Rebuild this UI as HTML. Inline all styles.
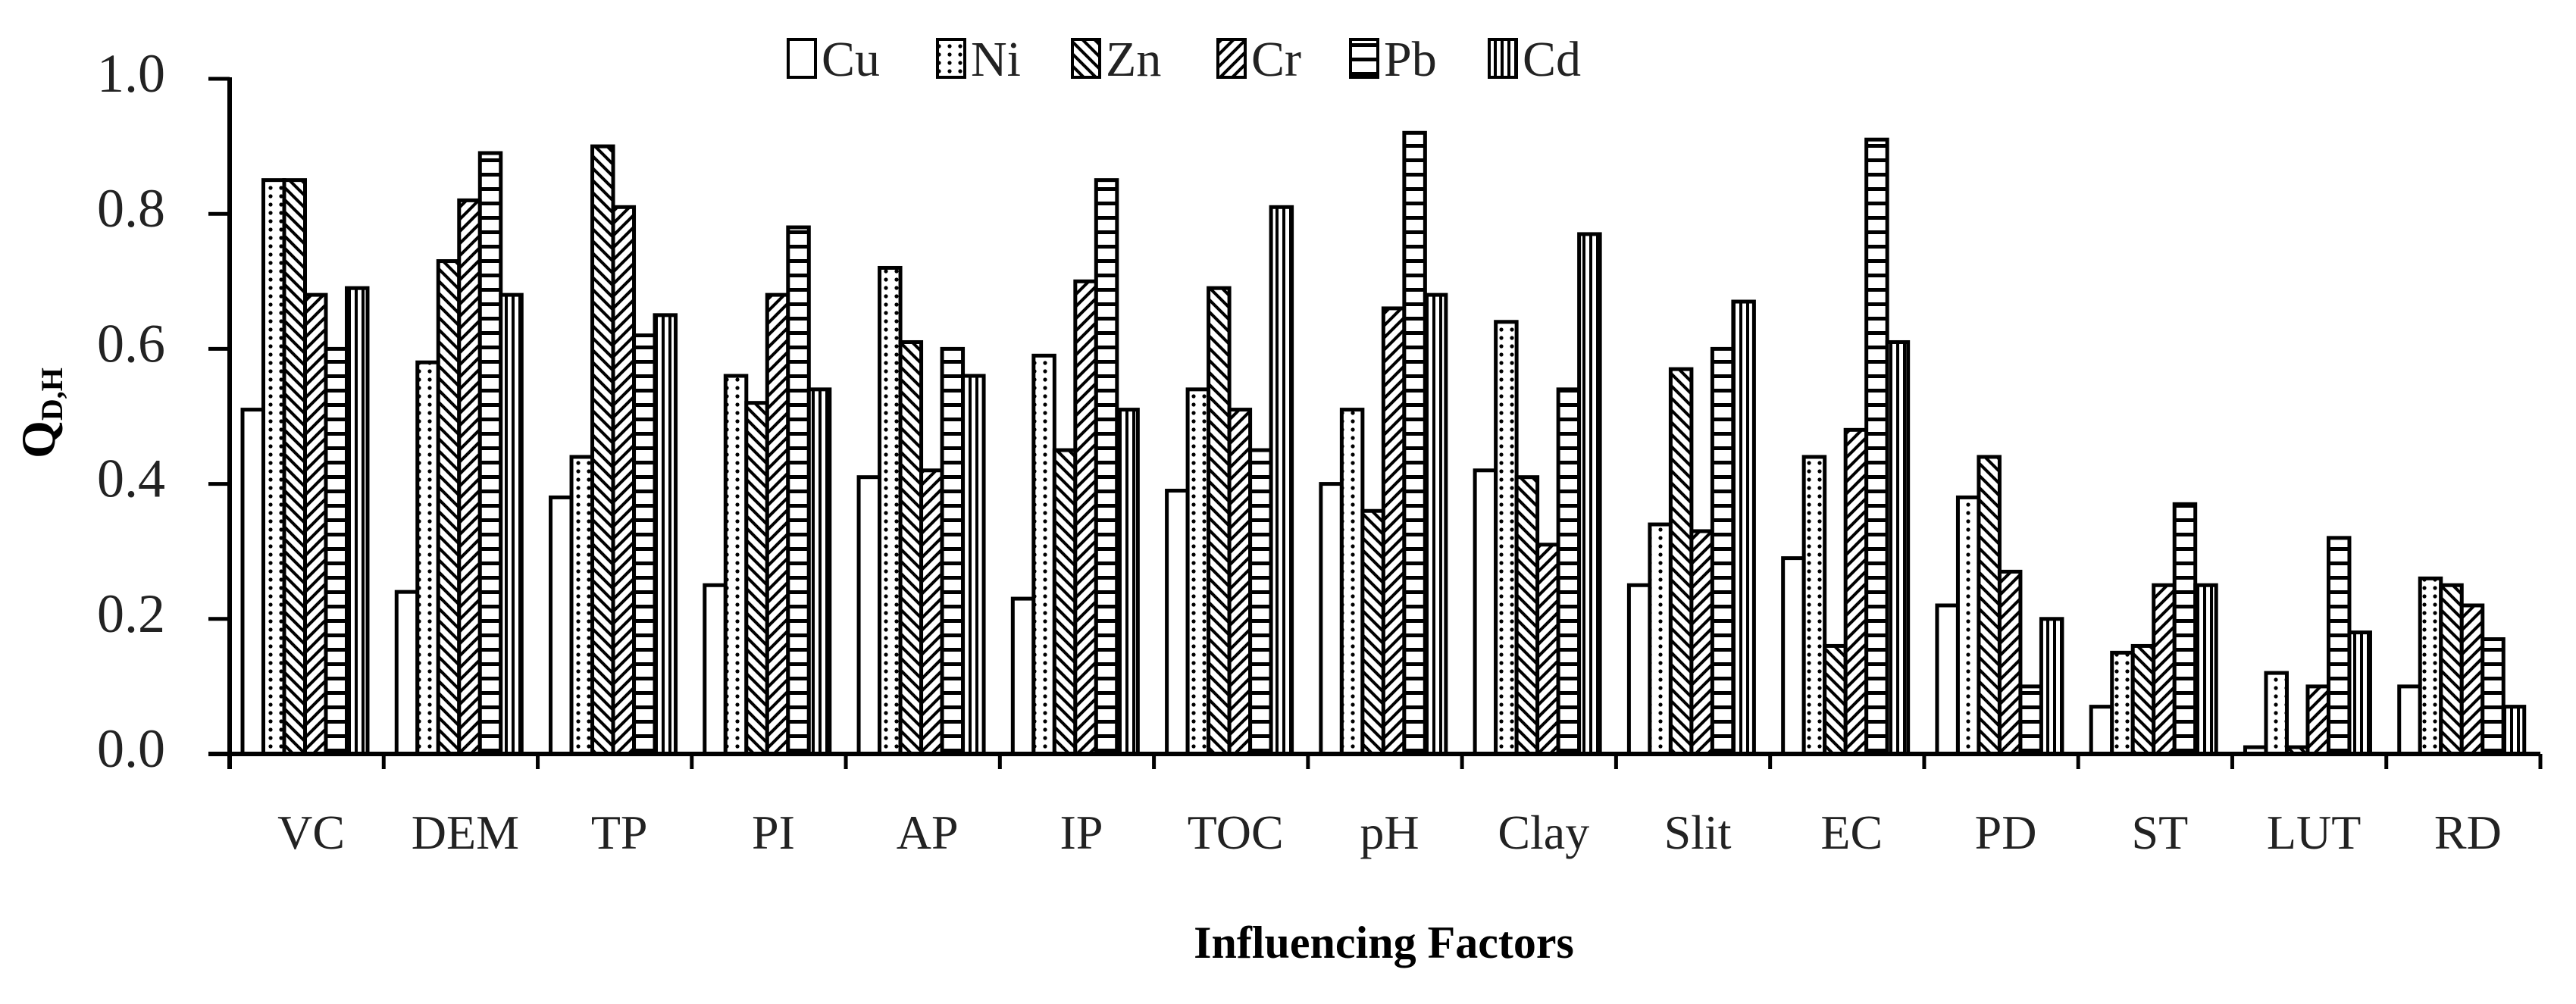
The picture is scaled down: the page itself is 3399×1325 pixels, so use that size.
<!DOCTYPE html>
<html><head><meta charset="utf-8"><style>
html,body{margin:0;padding:0;background:#fff;}
svg{display:block;font-family:"Liberation Serif",serif;}
</style></head><body>
<svg id="chart" width="3399" height="1325" viewBox="0 0 3399 1325">
<defs>
<pattern id="p-ni" width="14" height="22" patternUnits="userSpaceOnUse"><rect width="14" height="22" fill="#fff"/><circle cx="7" cy="6" r="2.6" fill="#000"/><circle cx="7" cy="17" r="2.6" fill="#000"/></pattern>
<pattern id="p-zn" width="16" height="16" patternUnits="userSpaceOnUse"><rect width="16" height="16" fill="#fff"/><path d="M-4,-4 L20,20 M-4,12 L4,20 M12,-4 L20,4" stroke="#000" stroke-width="4"/></pattern>
<pattern id="p-cr" width="16" height="16" patternUnits="userSpaceOnUse"><rect width="16" height="16" fill="#fff"/><path d="M-4,20 L20,-4 M-4,4 L4,-4 M12,20 L20,12" stroke="#000" stroke-width="4"/></pattern>
<pattern id="p-pb" width="20" height="19" patternUnits="userSpaceOnUse"><rect width="20" height="19" fill="#fff"/><rect y="0" width="20" height="5" fill="#000"/></pattern>
<pattern id="p-cd" width="9" height="20" patternUnits="userSpaceOnUse"><rect width="9" height="20" fill="#fff"/><rect x="0" width="4" height="20" fill="#000"/></pattern>
</defs>
<g id="bars"></g>
<g id="axes"></g>
<g id="legend"></g>
<text x="72" y="545" transform="rotate(-90 72 545)" text-anchor="middle" font-size="64" font-weight="bold">Q<tspan font-size="40" dy="10">D,H</tspan></text>
<text x="1826" y="1264" text-anchor="middle" font-size="60" font-weight="bold">Influencing Factors</text>
</svg>
<script>
const categories = ["VC","DEM","TP","PI","AP","IP","TOC","pH","Clay","Slit","EC","PD","ST","LUT","RD"];
const seriesNames = ["Cu","Ni","Zn","Cr","Pb","Cd"];
const cu = [0.51,0.24,0.38,0.25,0.41,0.23,0.39,0.40,0.42,0.25,0.29,0.22,0.07,0.01,0.10];
const ni = [0.85,0.58,0.44,0.56,0.72,0.59,0.54,0.51,0.64,0.34,0.44,0.38,0.15,0.12,0.26];
const zn = [0.85,0.73,0.90,0.52,0.61,0.45,0.69,0.36,0.41,0.57,0.16,0.44,0.16,0.01,0.25];
const cr = [0.68,0.82,0.81,0.68,0.42,0.70,0.51,0.66,0.31,0.33,0.48,0.27,0.25,0.10,0.22];
const pb = [0.60,0.89,0.62,0.78,0.60,0.85,0.45,0.92,0.54,0.60,0.91,0.10,0.37,0.32,0.17];
const cd = [0.69,0.68,0.65,0.54,0.56,0.51,0.81,0.68,0.77,0.67,0.61,0.20,0.25,0.18,0.07];
const yTicks = ["0.0","0.2","0.4","0.6","0.8","1.0"];

const series = [cu,ni,zn,cr,pb,cd];
const fills = ["#fff","url(#p-ni)","url(#p-zn)","url(#p-cr)","url(#p-pb)","url(#p-cd)"];
const NS = "http://www.w3.org/2000/svg";
const X0 = 303, X1 = 3352, Y0 = 995, Y1 = 104;
const gw = (X1 - X0) / categories.length;
const bw = 27.5, off = 17;
const y = v => Y0 - v * (Y0 - Y1);
const xg = i => X0 + i * gw;
function mk(tag, attrs, parent){const e=document.createElementNS(NS,tag);for(const k in attrs)e.setAttribute(k,attrs[k]);parent.appendChild(e);return e;}
const bars = document.getElementById('bars');
series.forEach((s, si) => {
  s.forEach((v, ci) => {
    const r = mk('rect', {x: xg(ci) + off + si * bw, y: y(v), width: bw, height: Y0 - y(v), fill: fills[si], stroke: '#000', 'stroke-width': 5}, bars);
    
    
  });
});
const axes = document.getElementById('axes');
const ya = mk('line', {x1: X0, y1: Y1 - 2, x2: X0, y2: Y0 + 20, stroke: '#000', 'stroke-width': 6}, axes);


const xa = mk('line', {x1: 275, y1: Y0, x2: X1, y2: Y0, stroke: '#000', 'stroke-width': 6}, axes);


yTicks.forEach((t, i) => {
  const v = parseFloat(t);
  mk('line', {x1: 275, y1: y(v), x2: X0, y2: y(v), stroke: '#000', 'stroke-width': 5}, axes);
  const tx = mk('text', {x: 218, y: y(v) + 17, 'text-anchor': 'end', 'font-size': 72, fill: '#222'}, axes);
  tx.textContent = t;
  
  
});
for (let i = 0; i <= categories.length; i++) {
  mk('line', {x1: xg(i), y1: Y0, x2: xg(i), y2: Y0 + 20, stroke: '#000', 'stroke-width': 5}, axes);
}
categories.forEach((c, i) => {
  const tx = mk('text', {x: xg(i) + gw / 2 + 6, y: 1120, 'text-anchor': 'middle', 'font-size': 64, fill: '#222'}, axes);
  tx.textContent = c;
  
  
});
const legend = document.getElementById('legend');
const lx = [1040, 1237, 1415, 1607, 1782, 1965];
seriesNames.forEach((n, i) => {
  const r = mk('rect', {x: lx[i], y: 52, width: 36, height: 50, fill: fills[i], stroke: '#000', 'stroke-width': 4}, legend);
  
  
  const t = mk('text', {x: lx[i] + 44, y: 100, 'font-size': 66, fill: '#222'}, legend);
  t.textContent = n;
  
  
});
</script>
</body></html>
